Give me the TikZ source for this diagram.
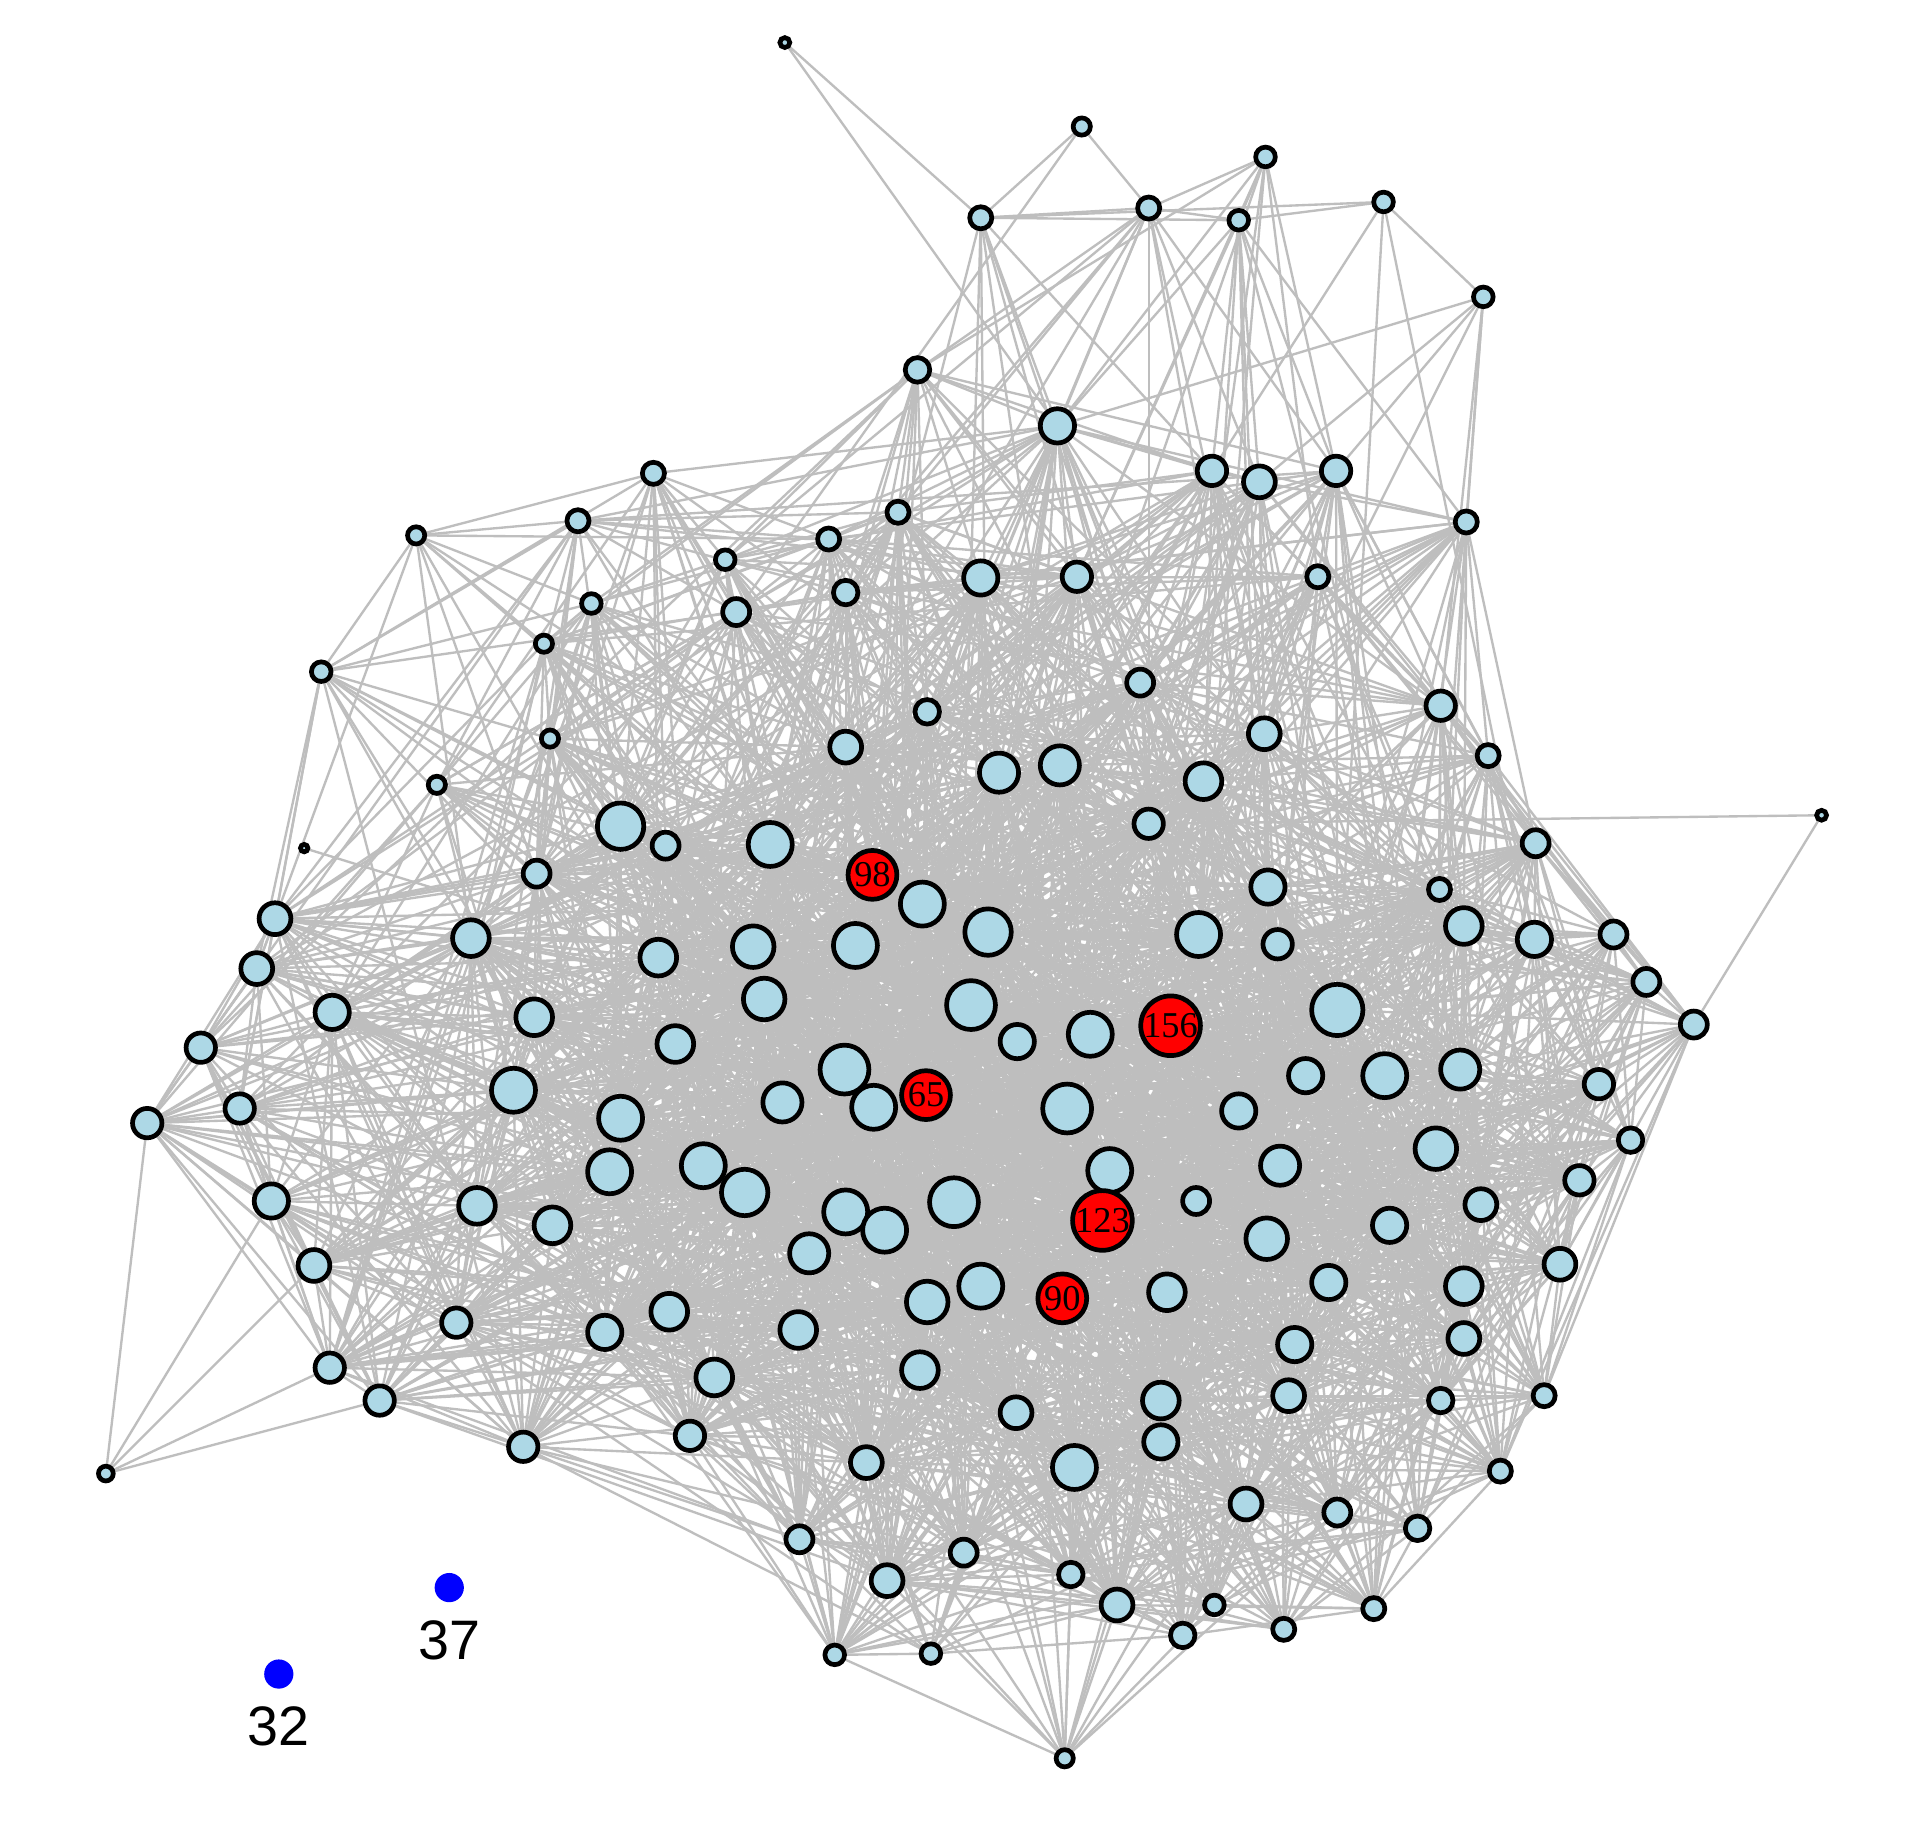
\documentclass[tikz,border=0pt]{standalone}
\usepackage{fontspec}
\newfontfamily\labsans{Liberation Sans}
\newfontfamily\labserif{Liberation Serif}
\usetikzlibrary{backgrounds}
\definecolor{vblue}{HTML}{ADD8E6}
\definecolor{egray}{HTML}{BEBEBE}
\tikzset{
  vx/.style={circle, draw=black, line width=1.1pt, fill=vblue, inner sep=0pt, outer sep=0pt},
  hub/.style={vx, fill=red, font=\labserif\fontsize{8.5}{8.5}\selectfont},
  iso/.style={circle, fill=blue, draw=none, inner sep=0pt, minimum size=2.4mm},
  isolab/.style={font=\labsans\fontsize{13}{13}\selectfont, inner sep=0pt},
  link/.style={draw=egray, line width=0.55pt},
}
\begin{document}
\begin{tikzpicture}
\useasboundingbox (0,0) rectangle (15.68,-15.05);
\foreach \x/\y/\r/\lab [count=\i] in {
645/35/6/0, 889/104/9/0, 1040/129/10/0, 1137/166/10/0, 806/179/11/0, 944/171/11/0, 1018/181/10/0, 1219/244/10/0, 754/304/12/0, 869/350/16/0,
996/387/14/0, 1035/396/15/0, 1098/387/14/0, 1205/429/11/0, 537/389/11/0, 342/440/9/0, 475/428/11/0, 738/421/11/0, 681/443/11/0, 596/460/10/0,
486/496/10/0, 605/503/13/0, 695/487/12/0, 806/475/16/0, 885/474/14/0, 1083/474/11/0, 447/529/9/0, 264/552/10/0, 937/561/13/0, 1184/580/14/0,
762/585/12/0, 452/607/9/0, 695/614/15/0, 1039/603/15/0, 1223/621/11/0, 359/645/9/0, 821/635/18/0, 871/629/18/0, 989/642/17/0, 250/697/5/0,
510/679/21/0, 547/695/13/0, 633/694/20/0, 944/677/14/0, 1497/670/6/0, 1262/693/13/0, 441/718/13/0, 717/719/22/98, 1042/729/16/0, 1183/731/11/0,
226/755/15/0, 758/743/20/0, 387/771/17/0, 703/777/20/0, 812/766/21/0, 985/768/20/0, 1050/776/14/0, 1203/761/17/0, 1261/772/16/0, 1326/768/13/0,
211/796/15/0, 541/787/17/0, 619/778/19/0, 1353/807/13/0, 273/832/16/0, 439/836/17/0, 628/821/19/0, 798/826/22/0, 1099/830/23/0, 1392/842/13/0,
962/843/22/156, 165/861/14/0, 555/858/17/0, 836/856/16/0, 896/850/20/0, 1073/884/16/0, 1138/884/20/0, 1200/879/18/0, 1314/891/14/0, 694/879/22/0,
761/900/22/65, 422/896/20/0, 121/923/14/0, 197/911/14/0, 643/906/18/0, 718/910/20/0, 877/911/22/0, 1018/913/16/0, 510/919/20/0, 1340/937/12/0,
1180/944/19/0, 912/962/20/0, 501/963/20/0, 578/958/20/0, 612/980/21/0, 1052/958/18/0, 1298/970/14/0, 223/987/16/0, 392/991/17/0, 784/988/22/0,
983/987/13/0, 1217/990/15/0, 906/1003/22/123, 454/1007/17/0, 695/996/20/0, 727/1011/20/0, 1142/1007/16/0, 1041/1018/19/0, 665/1030/18/0, 258/1040/15/0,
1282/1039/15/0, 806/1057/20/0, 1092/1054/16/0, 873/1067/22/90, 959/1062/17/0, 1203/1057/17/0, 762/1070/19/0, 550/1078/17/0, 375/1087/14/0, 497/1095/16/0,
656/1093/17/0, 1064/1105/16/0, 1203/1100/15/0, 271/1124/14/0, 756/1126/17/0, 587/1132/17/0, 312/1151/14/0, 954/1151/17/0, 1059/1147/15/0, 1184/1151/12/0,
1269/1147/11/0, 835/1161/15/0, 430/1189/14/0, 567/1180/14/0, 954/1185/16/0, 712/1202/15/0, 883/1206/20/0, 87/1211/8/0, 1233/1209/11/0, 1024/1236/15/0,
1099/1243/13/0, 1165/1256/12/0, 657/1265/13/0, 792/1276/13/0, 729/1299/15/0, 880/1294/12/0, 918/1319/15/0, 998/1319/10/0, 1129/1322/11/0, 972/1344/12/0,
1055/1339/11/0, 686/1360/10/0, 765/1359/10/0, 875/1445/9/0}{
  \expandafter\xdef\csname px\i\endcsname{\x}
  \expandafter\xdef\csname py\i\endcsname{\y}
  \pgfmathsetmacro\ww{\r<8.5 ? 0 : (\r+3)/23}
  \expandafter\xdef\csname pw\i\endcsname{\ww}
  \ifnum\lab=0
    \node[vx, minimum size=\r*0.2mm-1.1pt] (n\i) at (\x*0.01,-\y*0.01) {};
  \else
    \node[hub, minimum size=\r*0.2mm-1.1pt] (n\i) at (\x*0.01,-\y*0.01) {\lab};
  \fi
}
\begin{pgfonlayer}{background}
\fill[white] (0,0) rectangle (15.68,-15.05);
\pgfmathsetseed{12}
\foreach \i in {1,...,153}{
  \pgfmathtruncatemacro\ii{\i+1}
  \foreach \j in {\ii,...,154}{
    \pgfmathsetmacro\pp{\csname pw\i\endcsname*\csname pw\j\endcsname*1.5/(1+(veclen((\csname px\i\endcsname-\csname px\j\endcsname)/100,(\csname py\i\endcsname-\csname py\j\endcsname)/100)/3.5)^4)}
    \pgfmathsetmacro\uu{rnd}
    \ifdim\uu pt<\pp pt\relax \path[link] (n\i) -- (n\j);\fi
  }
}
\foreach \a/\b in {1/5,1/10,45/70,45/44,40/62,138/83,138/98,138/110,138/124,138/127}
  \path[link] (n\a) -- (n\b);
\end{pgfonlayer}
\node[iso] (v37) at (3.69,-13.04) {};
\node[isolab] (l37) at (3.69,-13.47) {37};
\node[iso] (v32) at (2.29,-13.75) {};
\node[isolab] (l32) at (2.29,-14.18) {32};
\end{tikzpicture}
\end{document}
